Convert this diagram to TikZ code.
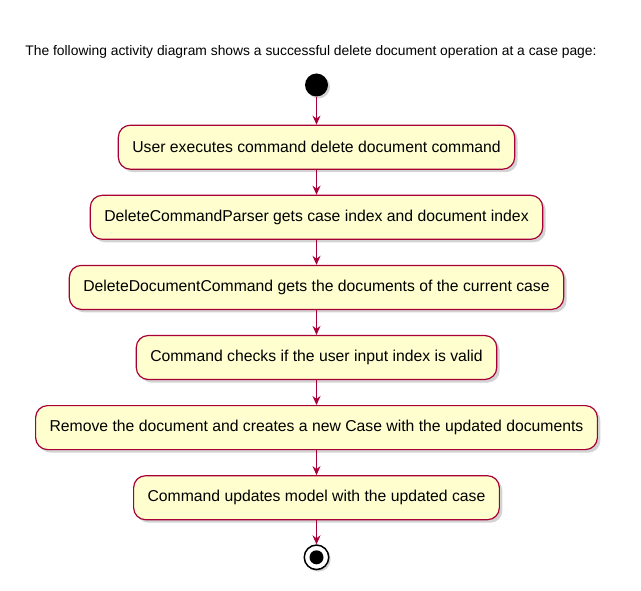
\documentclass[tikz,border=0pt]{standalone}
\usepackage{fontspec}
\setmainfont{Liberation Sans}
\usetikzlibrary{positioning,shadows,arrows.meta}

\definecolor{umlborder}{HTML}{A80036}
\definecolor{umlfill}{HTML}{FEFECE}

\tikzset{
	activity/.style={draw=umlborder, fill=umlfill, line width=1.2bp,
		rounded corners=12bp, minimum height=44bp, inner xsep=14bp,
		font=\fontsize{15.8}{18}\selectfont,
		drop shadow={shadow xshift=3bp, shadow yshift=-3bp, opacity=0.35}},
	flow/.style={draw=umlborder, line width=1.1bp,
		-{Stealth[length=9bp, width=8bp, inset=3bp]}}
}

\begin{document}
\begin{tikzpicture}[x=1bp, y=-1bp]
		\useasboundingbox (0,0) rectangle (641,591);
		\pgfmathsetmacro{\midx}{316.5}
		\pgfmathsetmacro{\gap}{24.9}
		
		\node[anchor=base, font=\fontsize{13.9}{16}\selectfont] (title) at (311,56)
			{The following activity diagram shows a successful delete document operation at a case page:};
		\node[circle, fill=black, minimum size=23bp, inner sep=0pt,
			drop shadow={shadow xshift=2bp, shadow yshift=-2bp, opacity=0.35}] (act0) at (\midx,85) {};
		\foreach \txt [count=\j, evaluate=\j as \i using int(\j-1)] in {
			User executes command delete document command,
			DeleteCommandParser gets case index and document index,
			DeleteDocumentCommand gets the documents of the current case,
			Command checks if the user input index is valid,
			Remove the document and creates a new Case with the updated documents,
			Command updates model with the updated case}
		{
			\pgfmathsetmacro{\dist}{\j==1 ? 27.9 : \gap}
			\node[activity, below=\dist bp of act\i] (act\j) {\txt};
		}
		\node[circle, draw=black, line width=1.5bp, fill=white, minimum size=24.5bp, inner sep=0pt,
			below=24bp of act6,
			drop shadow={shadow xshift=2bp, shadow yshift=-2bp, opacity=0.35}] (stop) {};
		\fill (stop) circle (7bp);
		
		\foreach \i [count=\j] in {0, 1, ..., 5}
		{
			\draw[flow] (act\i) -- (act\j);
		}
		\draw[flow] (act6) -- (stop);
	\end{tikzpicture}
\end{document}
